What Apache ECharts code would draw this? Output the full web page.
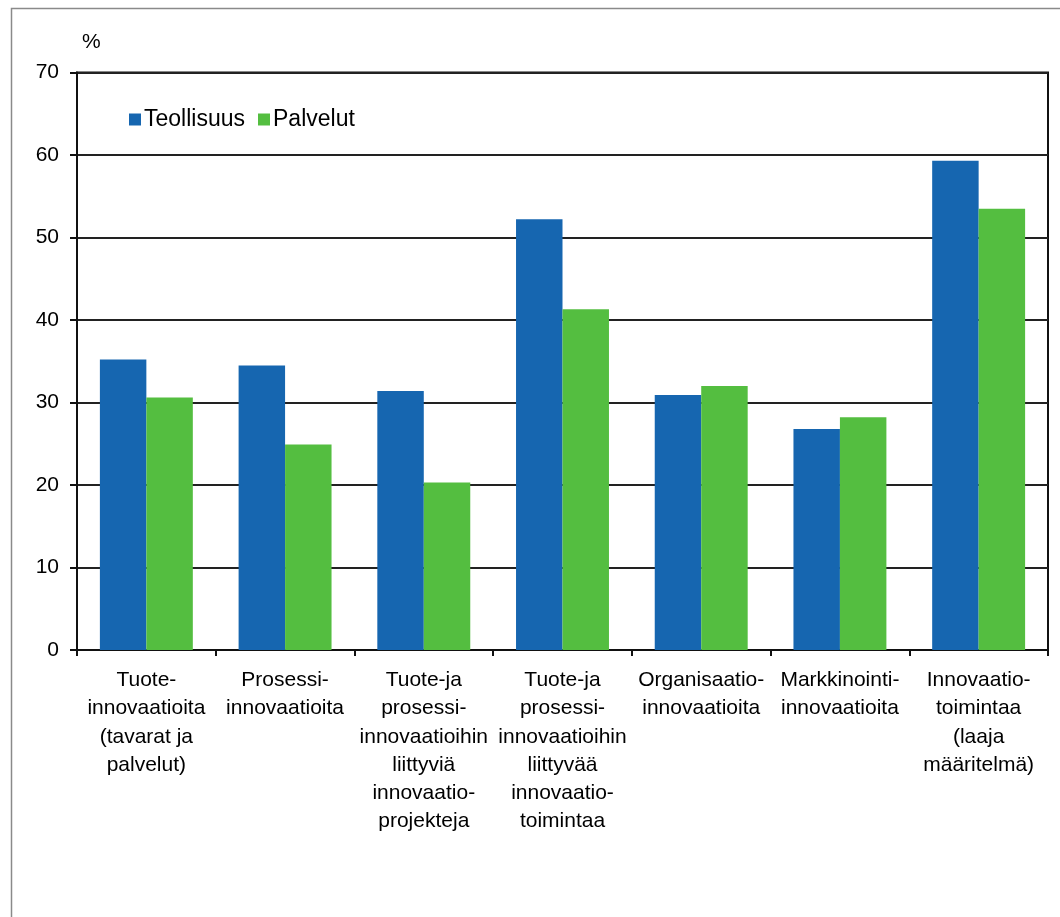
<!DOCTYPE html>
<html>
<head>
<meta charset="utf-8">
<script src="https://cdn.jsdelivr.net/npm/echarts@6/dist/echarts.min.js"></script>
<style>
html,body{margin:0;padding:0;background:#fff;}
#c{width:1060px;height:917px;}
</style>
</head>
<body>
<div id="c"></div>
<script>
var categories = [
  "Tuote-\ninnovaatioita\n(tavarat ja\npalvelut)",
  "Prosessi-\ninnovaatioita",
  "Tuote-ja\nprosessi-\ninnovaatioihin\nliittyviä\ninnovaatio-\nprojekteja",
  "Tuote-ja\nprosessi-\ninnovaatioihin\nliittyvää\ninnovaatio-\ntoimintaa",
  "Organisaatio-\ninnovaatioita",
  "Markkinointi-\ninnovaatioita",
  "Innovaatio-\ntoimintaa\n(laaja\nmääritelmä)"
];
var teollisuus = [35.2, 34.5, 31.4, 52.2, 30.9, 26.8, 59.3];
var palvelut   = [30.6, 24.9, 20.3, 41.3, 32.0, 28.2, 53.5];
var seriesNames = ["Teollisuus", "Palvelut"];
var yAxisName = "%";

var font = "Liberation Sans, Arial, sans-serif";
var chart = echarts.init(document.getElementById('c'), null, {renderer: 'canvas'});
chart.setOption({
  animation: false,
  backgroundColor: '#ffffff',
  color: ['#1666B0', '#54BE40'],
  graphic: [{
    type: 'rect',
    shape: {x: 11.5, y: 8.5, width: 1100, height: 1000},
    style: {fill: 'none', stroke: '#8a8a8a', lineWidth: 1.5},
    silent: true
  }, {
    type: 'text',
    left: 82, top: 32,
    style: {text: yAxisName, fontSize: 21, fontFamily: font, fill: '#000'}
  }],
  legend: {
    left: 124, top: 103,
    itemWidth: 12, itemHeight: 12, itemGap: 13,
    icon: 'rect',
    textStyle: {fontSize: 23, fontFamily: font, color: '#000', padding: [0,0,0,-2]},
    data: seriesNames
  },
  grid: {
    left: 77, right: 12, top: 72.5, bottom: 267,
    show: true, borderColor: '#111', borderWidth: 2, backgroundColor: 'transparent'
  },
  xAxis: {
    type: 'category',
    data: categories,
    boundaryGap: true,
    axisLine: {lineStyle: {color: '#111', width: 2}},
    axisTick: {show: true, inside: false, length: 6, alignWithLabel: false, interval: 0, lineStyle: {color: '#111', width: 2}},
    axisLabel: {interval: 0, margin: 16, fontSize: 21, lineHeight: 28.3, fontFamily: font, color: '#000', align: 'center'},
    splitLine: {show: false}
  },
  yAxis: {
    type: 'value',
    min: 0, max: 70, interval: 10,
    axisLine: {show: true, lineStyle: {color: '#111', width: 2}},
    axisTick: {show: true, inside: false, length: 7, lineStyle: {color: '#111', width: 2}},
    axisLabel: {margin: 18, fontSize: 21, fontFamily: font, color: '#000'},
    splitLine: {show: true, lineStyle: {color: '#222', width: 2}}
  },
  series: [{
    name: seriesNames[0], type: 'bar', data: teollisuus,
    barGap: '0%', barCategoryGap: '33%'
  }, {
    name: seriesNames[1], type: 'bar', data: palvelut,
    barGap: '0%', barCategoryGap: '33%'
  }]
});
</script>
</body>
</html>
